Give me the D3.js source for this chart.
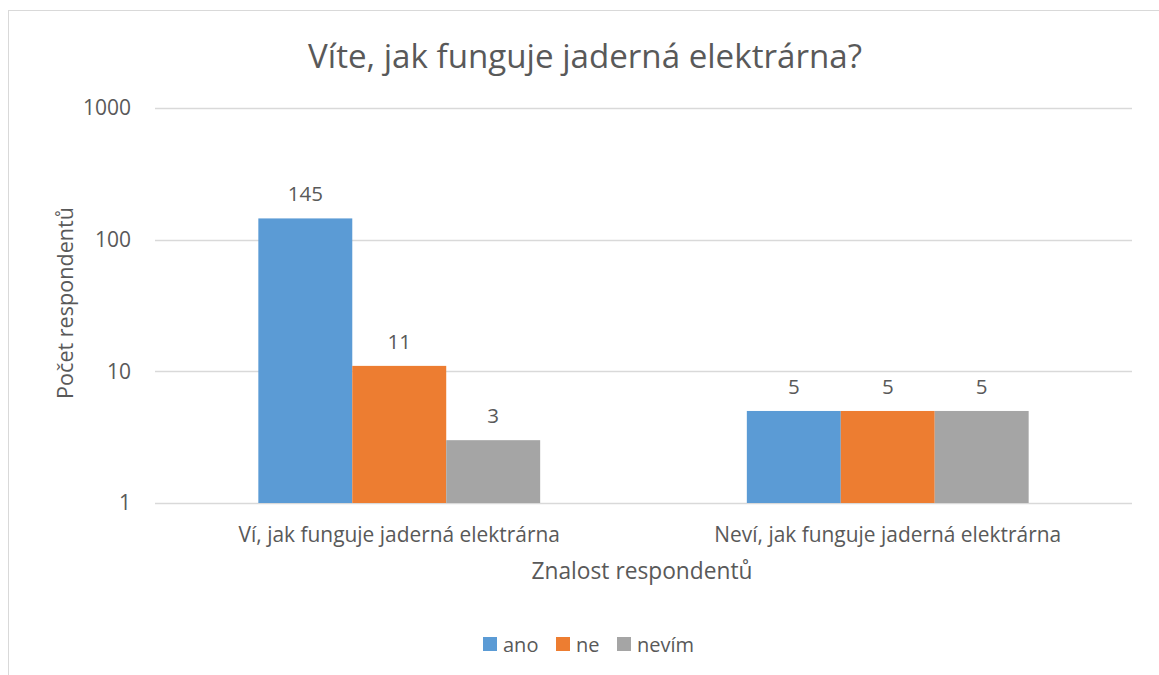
<!DOCTYPE html>
<html><head><meta charset="utf-8">
<script src="https://cdn.jsdelivr.net/npm/d3@7"></script>
<style>body{margin:0;background:#fff;} svg{display:block;} text{font-family:"Open Sans",sans-serif;fill:#595959;}</style>
</head><body>
<script>
const categories = ["Ví, jak funguje jaderná elektrárna", "Neví, jak funguje jaderná elektrárna"];
const seriesNames = ["ano", "ne", "nevím"];
const ano = [145, 5];
const ne = [11, 5];
const nevim = [3, 5];
const yTicks = [1, 10, 100, 1000];
const colors = ["#5B9BD5", "#ED7D31", "#A5A5A5"];
const seriesValues = [ano, ne, nevim];

const W = 1159, H = 675;
const m = {left: 155, right: W - 1132, top: 108, bottom: H - 503};
const svg = d3.select("body").append("svg").attr("width", W).attr("height", H);
svg.append("rect").attr("x", 8.5).attr("y", 10.5).attr("width", W + 10).attr("height", H + 10)
  .attr("fill", "none").attr("stroke", "#D9D9D9");

// scale font so that text fits a measured target width
function fit(sel, target) {
  const base = 20;
  sel.attr("font-size", base);
  const w = sel.node().getComputedTextLength();
  sel.attr("font-size", base * target / w);
  return base * target / w;
}

const x0 = d3.scaleBand().domain(categories).range([m.left, W - m.right]).paddingInner(0).paddingOuter(0);
const x1 = d3.scaleBand().domain(seriesNames).range([0, x0.bandwidth()]).paddingInner(0).paddingOuter(1.1);
const y = d3.scaleLog().domain([1, 1000]).range([H - m.bottom, m.top]);

const grid = svg.append("g");
grid.selectAll("line").data(yTicks).join("line")
  .attr("x1", m.left).attr("x2", W - m.right)
  .attr("y1", d => Math.round(y(d)) + 0.5).attr("y2", d => Math.round(y(d)) + 0.5)
  .attr("stroke", "#D9D9D9").attr("stroke-width", 1.3);

const yAxis = d3.axisLeft(y).tickValues(yTicks).tickFormat(d3.format("d")).tickSize(0).tickPadding(24);
const ga = svg.append("g").attr("transform", `translate(${m.left},0)`).call(yAxis);
ga.select(".domain").remove();
ga.selectAll("text").attr("font-size", 21).style("fill", "#595959").attr("font-family", "Open Sans");

const groups = svg.append("g").selectAll("g").data(categories).join("g")
  .attr("transform", d => `translate(${x0(d)},0)`);
groups.each(function(cat, ci) {
  const g = d3.select(this);
  seriesNames.forEach((s, si) => {
    const v = seriesValues[si][ci];
    g.append("rect").attr("x", x1(s)).attr("width", x1.bandwidth())
      .attr("y", y(v)).attr("height", y(1) - y(v)).attr("fill", colors[si]);
    g.append("text").attr("x", x1(s) + x1.bandwidth() / 2).attr("y", y(v) - 17)
      .attr("text-anchor", "middle").attr("font-size", 20.5).text(v);
  });
});

const xAxis = d3.axisBottom(x0).tickSize(0).tickPadding(24);
const gx = svg.append("g").attr("transform", `translate(0,${H - m.bottom})`).call(xAxis);
gx.select(".domain").remove();
const catTexts = gx.selectAll("text").style("fill", "#595959").attr("font-family", "Open Sans");
const catFs = fit(gx.selectAll("text").filter((d, i) => i === 1), 347);
catTexts.attr("font-size", catFs);

const title = svg.append("text").attr("x", 585).attr("y", 68).attr("text-anchor", "middle")
  .text("Víte, jak funguje jaderná elektrárna?");
fit(title, 554);
const xt = svg.append("text").attr("x", 642).attr("y", 579).attr("text-anchor", "middle")
  .text("Znalost respondentů");
fit(xt, 221);
const yt = svg.append("text").attr("transform", "translate(73,303) rotate(-90)").attr("text-anchor", "middle")
  .text("Počet respondentů");
fit(yt, 192);

const legX = [483, 556, 617];
const leg = svg.append("g");
seriesNames.forEach((s, i) => {
  leg.append("rect").attr("x", legX[i]).attr("y", 637).attr("width", 14).attr("height", 14).attr("fill", colors[i]);
  leg.append("text").attr("x", legX[i] + 20).attr("y", 651.5).attr("font-size", 20).text(s);
});
</script>
</body></html>
